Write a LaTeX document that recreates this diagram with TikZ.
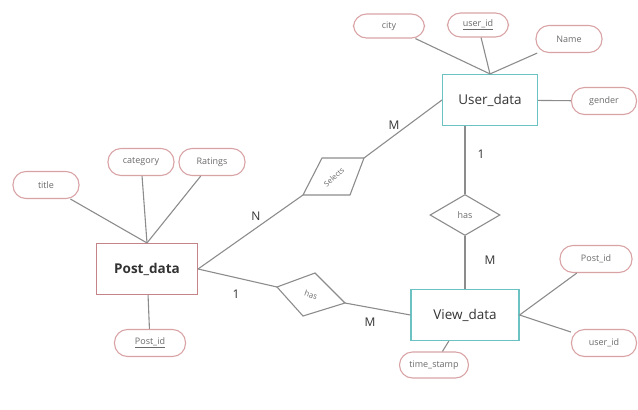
\documentclass[tikz,border=0pt]{standalone}
\usepackage{fontspec}
\setmainfont{Open Sans}
\usepackage{xcolor}
\usepackage{tikz}
\usetikzlibrary{shapes.geometric}
\usetikzlibrary{positioning}

\definecolor{attrpink}{HTML}{D9A3A6}
\definecolor{postred}{HTML}{C4848A}
\definecolor{userteal}{HTML}{6CC2C2}
\definecolor{linegray}{HTML}{8C8C8C}
\definecolor{txtgray}{HTML}{6A6A6A}

\begin{document}
\begin{tikzpicture}[x=1pt,y=-1pt,
		attr/.style={draw=attrpink,line width=1.1pt,rounded corners=13pt,minimum width=66pt,minimum height=27pt,inner sep=0pt,text=txtgray,font=\fontsize{9}{10}\selectfont},
		entity/.style={draw=userteal,line width=1.1pt,minimum width=96pt,minimum height=51pt,inner sep=0pt,text=black!80,font=\fontsize{13.5}{15}\selectfont},
		rel/.style={draw=linegray,line width=1.1pt},
		link/.style={draw=linegray,line width=1.1pt},
		card/.style={text=black!80,font=\fontsize{12}{14}\selectfont}]
		\useasboundingbox (0,0) rectangle (638,410);
		% entities
		\node[entity,draw=postred,minimum width=101pt,font=\fontsize{13.5}{15}\selectfont\bfseries] (post) at (147,269) {Post\_data};
		\node[entity,minimum width=95pt] (user) at (490,100) {User\_data};
		\node[entity,minimum width=108pt] (view) at (465,315) {View\_data};
		% attributes of Post_data
		\node[attr] (title) at (46,185) {title};
		\node[attr] (category) at (141,162) {category};
		\node[attr] (ratings) at (212,162) {Ratings};
		\node[attr,minimum width=71pt] (postid) at (150,343) {\underline{Post\_id}};
		% attributes of User_data
		\node[attr,minimum width=71pt,minimum height=24pt] (city) at (389,26) {city};
		\node[attr,minimum width=61pt,minimum height=24pt] (userid) at (478,25) {\underline{user\_id}};
		\node[attr] (name) at (569,39) {Name};
		\node[attr,minimum width=65pt] (gender) at (604,101) {gender};
		% attributes of View_data
		\node[attr,minimum width=72pt] (vpostid) at (596,259) {Post\_id};
		\node[attr,minimum width=65pt] (vuserid) at (604,343) {user\_id};
		\node[attr,minimum width=69pt,minimum height=26pt] (stamp) at (434,365) {time\_stamp};
		% relations
		\coordinate (selL) at (303,195);
		\coordinate (selR) at (364,158);
		\draw[rel] (selL) -- (322,158) -- (selR) -- (350,195) -- cycle;
		\node[rotate=42,inner sep=0pt,text=txtgray,font=\fontsize{7.5}{8}\selectfont] (selects) at (334,177) {Selects};
		\coordinate (hasL) at (277,287);
		\coordinate (hasR) at (345,303);
		\draw[rel] (hasL) -- (315,273) -- (hasR) -- (303,316) -- cycle;
		\node[rotate=-18,inner sep=0pt,text=txtgray,font=\fontsize{8}{9}\selectfont] (has1) at (311,295) {has};
		\node[diamond,rel,minimum width=70pt,minimum height=41pt,inner sep=0pt,text=txtgray,font=\fontsize{9}{10}\selectfont] (has2) at (465,215) {has};
		% connectors
		\draw[link] (post.north) -- (title);
		\draw[link] (post.north) -- (category);
		\draw[link] (post.north) -- (ratings);
		\draw[link] (post) -- (postid);
		\draw[link] (post.east) -- (selL);
		\draw[link] (post.east) -- (hasL);
		\draw[link] (selR) -- (user.west);
		\draw[link] (hasR) -- (view.west);
		\draw[link] (user.north) -- (city);
		\draw[link] (user.north) -- (userid);
		\draw[link] (user.north) -- (name);
		\draw[link] (user) -- (gender);
		\draw[link] (user.south -| has2.north) -- (has2.north);
		\draw[link] (has2.south) -- (view.north -| has2.south);
		\draw[link] (view.east) -- (vpostid);
		\draw[link] (view.east) -- (vuserid);
		\draw[link] (view) -- (stamp);
		% cardinalities
		\node[card] (cardN) at (256,216) {N};
		\node[card] (cardM1) at (394,125) {M};
		\node[card] (card1a) at (481,154) {1};
		\node[card] (cardM2) at (490,260) {M};
		\node[card] (card1b) at (236,294) {1};
		\node[card] (cardM3) at (370,322) {M};
	\end{tikzpicture}
\end{document}
